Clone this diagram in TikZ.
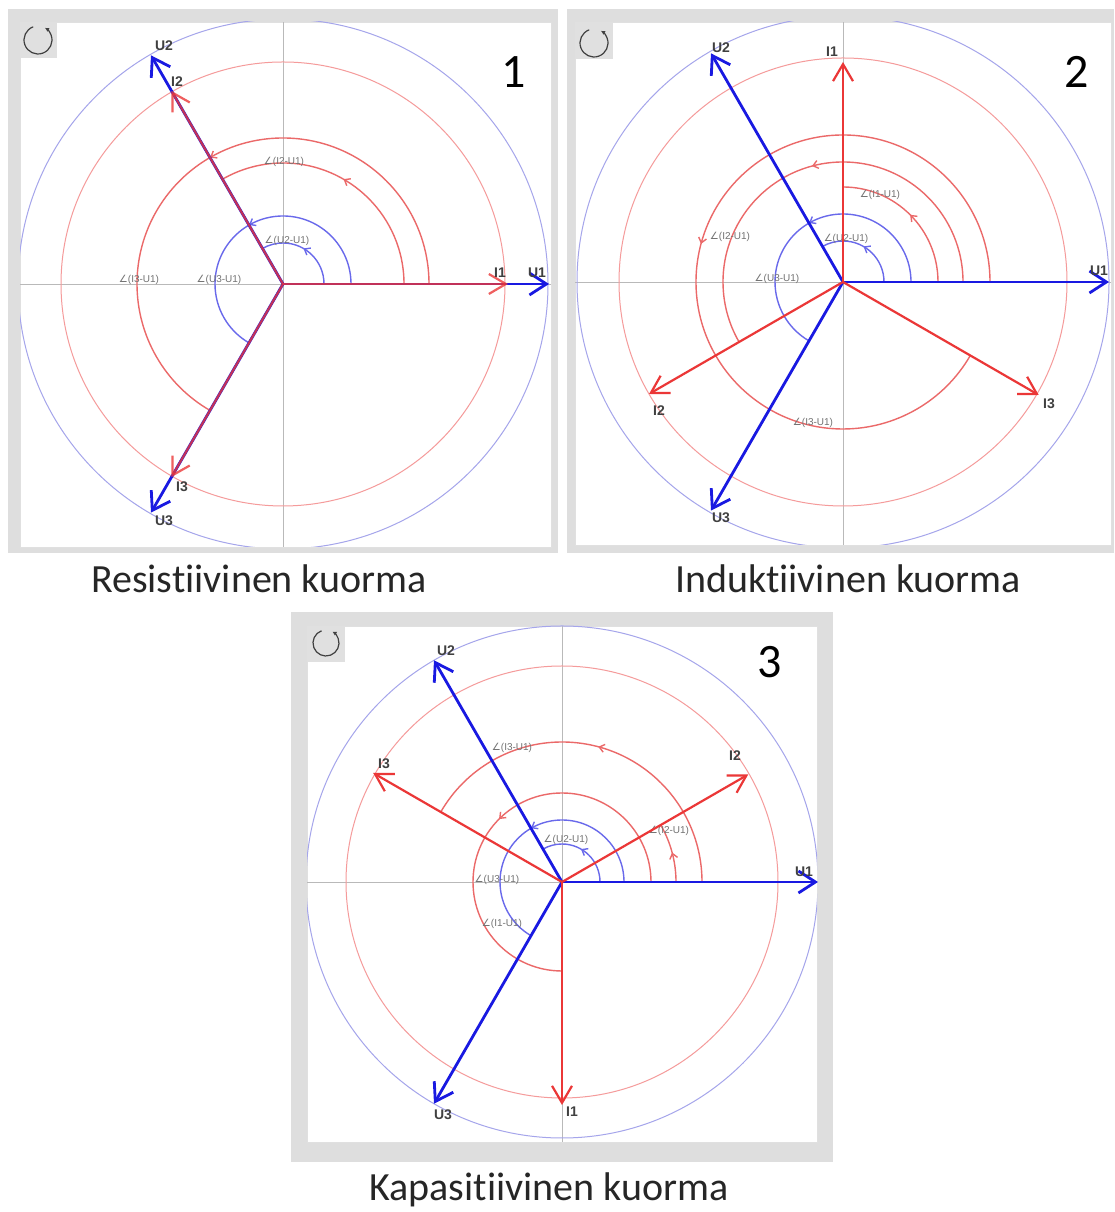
\documentclass[tikz,border=0pt]{standalone}
\usepackage{fontspec}
\setmainfont{Carlito}[Ligatures={NoCommon}]
\setsansfont{Liberation Sans}
\newfontfamily\anglefont{DejaVu Sans}
\usetikzlibrary{arrows.meta, decorations.markings}
\definecolor{ublue}{RGB}{25, 25, 225}
\definecolor{ired}{RGB}{235, 55, 55}
\definecolor{ucircle}{RGB}{165, 165, 235}
\definecolor{icircle}{RGB}{245, 155, 155}
\definecolor{uarccol}{RGB}{105, 105, 235}
\definecolor{iarccol}{RGB}{235, 105, 105}
\definecolor{framegray}{RGB}{222, 222, 222}
\definecolor{axisgray}{RGB}{185, 185, 185}
\newcommand{\phase}[1]{{\anglefont ∠}(#1)}

\begin{document}
\begin{tikzpicture}[
    x=1pt, y=1pt,
    frame/.style={fill=framegray},
    plot/.style={fill=white, draw=black!12, line width=0.6pt},
    iconbox/.style={fill=black!12},
    icon/.style={draw=black!75, line width=1.2pt, -{Latex[length=4pt,width=4.5pt]}},
    axisline/.style={draw=axisgray, line width=0.8pt},
    ucirc/.style={draw=ucircle, line width=1pt},
    icirc/.style={draw=icircle, line width=1pt},
    uarc/.style={draw=uarccol, line width=1.4pt},
    iarc/.style={draw=iarccol, line width=1.4pt},
    midtip/.style={postaction={decorate, decoration={markings,
        mark=at position 0.5 with {\arrow{Straight Barb[length=5pt,width=8pt]}}}}},
    uvec/.style={draw=ublue, line width=2.8pt, -{Straight Barb[length=17pt,width=22pt]}},
    ivec/.style={draw=ired, line width=2.2pt, -{Straight Barb[length=17pt,width=20pt]}},
    veclab/.style={font=\sffamily\bfseries\fontsize{14}{14}\selectfont, text=black!75, inner sep=0pt},
    anglab/.style={font=\sffamily\fontsize{10}{10}\selectfont, text=black!55, inner sep=0pt},
    num/.style={font=\fontsize{48}{48}\selectfont, inner sep=0pt},
    caption/.style={font=\fontsize{40}{40}\selectfont, text=black!85, inner sep=0pt, anchor=base}
]
    \useasboundingbox (0,0) rectangle (1114,1212);

    % 1: resistive load
    \begin{scope}[shift={(283,928)}]
        \fill[frame] (-275,-269) rectangle (275,275);
        \filldraw[plot] (-263,-263) rectangle (268,262);
        \fill[iconbox] (-263,226) rectangle (-226,262);
        \draw[icon] (-245,244) ++(110:14) arc[start angle=110, end angle=420, radius=14];
        \draw[axisline] (-263,0) -- (268,0);
        \draw[axisline] (0,-263) -- (0,262);
        \begin{scope}
            \clip (-263,-263) rectangle (268,262);
            \draw[ucirc] (0,0) circle[radius=265];
            \draw[icirc] (0,0) circle[radius=222];
        \end{scope}
        \draw[uarc, midtip] (41,0) arc[start angle=0, end angle=120, radius=41];
        \draw[uarc, midtip] (68,0) arc[start angle=0, end angle=240, radius=68];
        \draw[iarc, midtip] (121,0) arc[start angle=0, end angle=120, radius=121];
        \draw[iarc, midtip] (146,0) arc[start angle=0, end angle=240, radius=146];
        \node[anglab] (r-phu2) at (4,43) {\phase{U2-U1}};
        \node[anglab] (r-phu3) at (-64,4) {\phase{U3-U1}};
        \node[anglab] (r-phi2) at (1,122) {\phase{I2-U1}};
        \node[anglab] (r-phi3) at (-144,4) {\phase{I3-U1}};

        \coordinate (r-o) at (0,0);
        \coordinate (r-u1) at (0:266);
        \coordinate (r-u2) at (120:264);
        \coordinate (r-u3) at (240:264);
        \coordinate (r-i1) at (0:225);
        \coordinate (r-i2) at (120:223);
        \coordinate (r-i3) at (240:223);
        \draw[uvec] (r-o) -- (r-u1);
        \draw[uvec] (r-o) -- (r-u2);
        \draw[uvec] (r-o) -- (r-u3);
        \draw[ivec, draw opacity=0.8] (r-o) -- (r-i1);
        \draw[ivec, draw opacity=0.8] (r-o) -- (r-i2);
        \draw[ivec, draw opacity=0.8] (r-o) -- (r-i3);
        \node[veclab] (r-u1l) at (254,11) {U1};
        \node[veclab] (r-i1l) at (217,11) {I1};
        \node[veclab] (r-u2l) at (-119,238) {U2};
        \node[veclab] (r-i2l) at (-106,202) {I2};
        \node[veclab] (r-i3l) at (-101,-203) {I3};
        \node[veclab] (r-u3l) at (-119,-237) {U3};
        \node[num] (r-num) at (231,212) {1};
    \end{scope}

    % 2: inductive load
    \begin{scope}[shift={(843,930)}]
        \fill[frame] (-276,-271) rectangle (271,273);
        \filldraw[plot] (-268,-263) rectangle (268,260);
        \fill[iconbox] (-268,223) rectangle (-230,260);
        \draw[icon] (-249,239) ++(110:14) arc[start angle=110, end angle=420, radius=14];
        \draw[axisline] (-268,0) -- (268,0);
        \draw[axisline] (0,-263) -- (0,260);
        \begin{scope}
            \clip (-268,-263) rectangle (268,260);
            \draw[ucirc] (0,0) circle[radius=266];
            \draw[icirc] (0,0) circle[radius=224];
        \end{scope}
        \draw[uarc, midtip] (41,0) arc[start angle=0, end angle=120, radius=41];
        \draw[uarc, midtip] (68,0) arc[start angle=0, end angle=240, radius=68];
        \draw[iarc, midtip] (95,0) arc[start angle=0, end angle=90, radius=95];
        \draw[iarc, midtip] (120,0) arc[start angle=0, end angle=210, radius=120];
        \draw[iarc, midtip] (147,0) arc[start angle=0, end angle=330, radius=147];
        \node[anglab] (l-phi1) at (37,87) {\phase{I1-U1}};
        \node[anglab] (l-phi2) at (-113,45) {\phase{I2-U1}};
        \node[anglab] (l-phu2) at (3,43) {\phase{U2-U1}};
        \node[anglab] (l-phu3) at (-66,3) {\phase{U3-U1}};
        \node[anglab] (l-phi3) at (-30,-141) {\phase{I3-U1}};

        \coordinate (l-o) at (0,0);
        \coordinate (l-u1) at (0:266);
        \coordinate (l-u2) at (120:264);
        \coordinate (l-u3) at (240:264);
        \coordinate (l-i1) at (90:220);
        \coordinate (l-i2) at (210:224);
        \coordinate (l-i3) at (330:226);
        \draw[uvec] (l-o) -- (l-u1);
        \draw[uvec] (l-o) -- (l-u2);
        \draw[uvec] (l-o) -- (l-u3);
        \draw[ivec] (l-o) -- (l-i1);
        \draw[ivec] (l-o) -- (l-i2);
        \draw[ivec] (l-o) -- (l-i3);
        \node[veclab] (l-u2l) at (-122,234) {U2};
        \node[veclab] (l-i1l) at (-11,230) {I1};
        \node[veclab] (l-u1l) at (256,11) {U1};
        \node[veclab] (l-i2l) at (-184,-129) {I2};
        \node[veclab] (l-i3l) at (206,-122) {I3};
        \node[veclab] (l-u3l) at (-122,-236) {U3};
        \node[num] (l-num) at (234,210) {2};
    \end{scope}

    % 3: capacitive load
    \begin{scope}[shift={(562,330)}]
        \fill[frame] (-271,-280) rectangle (271,270);
        \filldraw[plot] (-255,-260) rectangle (255,256);
        \fill[iconbox] (-255,220) rectangle (-217,256);
        \draw[icon] (-236,239) ++(110:13) arc[start angle=110, end angle=420, radius=13];
        \draw[axisline] (-255,0) -- (255,0);
        \draw[axisline] (0,-260) -- (0,256);
        \begin{scope}
            \clip (-255,-260) rectangle (255,256);
            \draw[ucirc] (0,0) circle[radius=256];
            \draw[icirc] (0,0) circle[radius=216];
        \end{scope}
        \draw[uarc, midtip] (38,0) arc[start angle=0, end angle=120, radius=38];
        \draw[uarc, midtip] (62,0) arc[start angle=0, end angle=240, radius=62];
        \draw[iarc, midtip] (89,0) arc[start angle=0, end angle=270, radius=89];
        \draw[iarc, midtip] (114,0) arc[start angle=0, end angle=30, radius=114];
        \draw[iarc, midtip] (140,0) arc[start angle=0, end angle=150, radius=140];
        \node[anglab] (c-phi3) at (-50,134) {\phase{I3-U1}};
        \node[anglab] (c-phi2) at (107,51) {\phase{I2-U1}};
        \node[anglab] (c-phu2) at (4,42) {\phase{U2-U1}};
        \node[anglab] (c-phu3) at (-65,2) {\phase{U3-U1}};
        \node[anglab] (c-phi1) at (-60,-42) {\phase{I1-U1}};

        \coordinate (c-o) at (0,0);
        \coordinate (c-u1) at (0:256);
        \coordinate (c-u2) at (120:256);
        \coordinate (c-u3) at (240:256);
        \coordinate (c-i1) at (270:223);
        \coordinate (c-i2) at (30:215);
        \coordinate (c-i3) at (150:218);
        \draw[uvec] (c-o) -- (c-u1);
        \draw[uvec] (c-o) -- (c-u2);
        \draw[uvec] (c-o) -- (c-u3);
        \draw[ivec] (c-o) -- (c-i1);
        \draw[ivec] (c-o) -- (c-i2);
        \draw[ivec] (c-o) -- (c-i3);
        \node[veclab] (c-u2l) at (-116,231) {U2};
        \node[veclab] (c-i3l) at (-178,118) {I3};
        \node[veclab] (c-i2l) at (173,126) {I2};
        \node[veclab] (c-u1l) at (242,10) {U1};
        \node[veclab] (c-u3l) at (-119,-233) {U3};
        \node[veclab] (c-i1l) at (10,-230) {I1};
        \node[num] (c-num) at (208,220) {3};
    \end{scope}

    \node[caption] (cap1) at (259,619) {Resistiivinen kuorma};
    \node[caption] (cap2) at (848,619) {Induktiivinen kuorma};
    \node[caption] (cap3) at (549,11) {Kapasitiivinen kuorma};
\end{tikzpicture}
\end{document}
